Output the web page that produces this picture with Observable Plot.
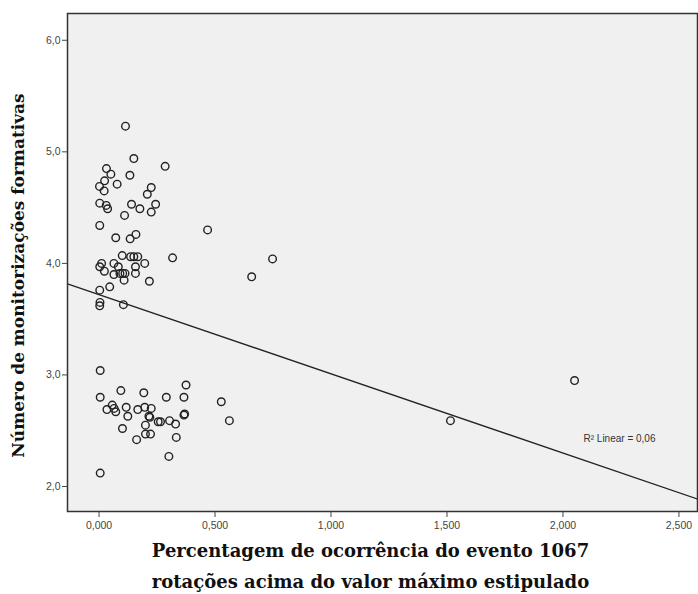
<!DOCTYPE html>
<html>
<head>
<meta charset="utf-8">
<script src="https://cdn.jsdelivr.net/npm/d3@7"></script>
<script src="https://cdn.jsdelivr.net/npm/@observablehq/plot@0.6"></script>
<style>
  html, body { margin: 0; padding: 0; background: #ffffff; }
</style>
</head>
<body>
<div id="chart"></div>
<script>
// Percentagem de ocorrência do evento 1067 (x) vs número de monitorizações formativas (y)
const xValues = [
  0.114, 0.150, 0.285, 0.032, 0.051, 0.133, 0.024, 0.002, 0.022, 0.078,
  0.225, 0.208, 0.003, 0.031, 0.037, 0.140, 0.176, 0.244, 0.225, 0.110,
  0.003, 0.072, 0.159, 0.134, 0.468, 0.100, 0.136, 0.150, 0.167, 0.317,
  0.011, 0.003, 0.064, 0.083, 0.023, 0.064, 0.090, 0.102, 0.112, 0.108,
  0.157, 0.157, 0.197, 0.217, 0.003, 0.046, 0.004, 0.003, 0.105, 0.658,
  0.748,
  0.005, 0.005, 0.094, 0.193, 0.290, 0.366, 0.375, 0.057, 0.034, 0.065,
  0.072, 0.117, 0.124, 0.167, 0.197, 0.225, 0.215, 0.219, 0.255, 0.265,
  0.200, 0.101, 0.200, 0.222, 0.162, 0.304, 0.330, 0.366, 0.369, 0.333,
  0.301, 0.527, 0.562, 0.005, 1.515, 2.050
];
const yValues = [
  5.23, 4.94, 4.87, 4.85, 4.80, 4.79, 4.74, 4.69, 4.65, 4.71,
  4.68, 4.62, 4.54, 4.52, 4.49, 4.53, 4.49, 4.53, 4.46, 4.43,
  4.34, 4.23, 4.26, 4.22, 4.30, 4.07, 4.06, 4.06, 4.06, 4.05,
  4.00, 3.97, 4.00, 3.97, 3.93, 3.90, 3.91, 3.91, 3.91, 3.85,
  3.97, 3.91, 4.00, 3.84, 3.76, 3.79, 3.65, 3.62, 3.63, 3.88,
  4.04,
  3.04, 2.80, 2.86, 2.84, 2.80, 2.80, 2.91, 2.73, 2.69, 2.70,
  2.67, 2.71, 2.63, 2.69, 2.71, 2.70, 2.63, 2.62, 2.58, 2.58,
  2.55, 2.52, 2.47, 2.47, 2.42, 2.59, 2.56, 2.64, 2.65, 2.44,
  2.27, 2.76, 2.59, 2.12, 2.59, 2.95
];

// Linear fit shown in the chart (R² Linear = 0,06)
const fitIntercept = 3.72;
const fitSlope = -0.71;
const fitLabel = ["R\u00B2 Linear = 0,06"];

const xTicks = [0, 0.5, 1, 1.5, 2, 2.5];
const yTicks = [2, 3, 4, 5, 6];
const xDomain = [-0.136, 2.58];
const yDomain = [1.776, 6.24];

const xTitle = ["Percentagem de ocorrência do evento 1067\nrotações acima do valor máximo estipulado"];
const yTitle = ["Número de monitorizações formativas"];

const points = xValues.map((x, i) => ({x, y: yValues[i]}));
const fitLine = xDomain.map(x => ({x, y: fitIntercept + fitSlope * x}));

const comma = f => d => f(d).replace(".", ",");
const titleFont = "'DejaVu Serif', 'Liberation Serif', serif";

const chart = Plot.plot({
  width: 698,
  height: 594,
  marginLeft: 67,
  marginRight: 1,
  marginTop: 13,
  marginBottom: 83,
  style: {background: "#ffffff", fontFamily: "'Liberation Sans', Arial, sans-serif", overflow: "visible"},
  x: {domain: xDomain},
  y: {domain: yDomain},
  marks: [
    Plot.frame({fill: "#f0f0f0"}),
    Plot.line(fitLine, {x: "x", y: "y", stroke: "#222", strokeWidth: 1.3, clip: true}),
    Plot.dot(points, {x: "x", y: "y", r: 3.8, stroke: "#222", strokeWidth: 1.4, fill: "none"}),
    Plot.text(fitLabel, {text: d => d, frameAnchor: "bottom-right", dx: -42, dy: -70, textAnchor: "end", fontSize: 10, fill: "#333"}),
    Plot.frame({stroke: "#333", strokeWidth: 1.5}),
    Plot.axisX(xTicks, {tickFormat: comma(d3.format(".3f")), tickSize: 6, tickPadding: 4, fontSize: 10.5, color: "#444", label: null}),
    Plot.axisY(yTicks, {tickFormat: comma(d3.format(".1f")), tickSize: 5, tickPadding: 2, fontSize: 10.5, color: "#444", label: null}),
    Plot.text(xTitle, {text: d => d, frameAnchor: "bottom", dx: -12, dy: 23, lineAnchor: "top", lineHeight: 1.75, fontFamily: titleFont, fontWeight: "bold", fontSize: 18, fill: "#111"}),
    Plot.text(yTitle, {text: d => d, frameAnchor: "left", dx: -49, dy: 13, rotate: -90, textAnchor: "middle", lineAnchor: "middle", fontFamily: titleFont, fontWeight: "bold", fontSize: 17, fill: "#111"})
  ]
});

document.getElementById("chart").appendChild(chart);
</script>
</body>
</html>
